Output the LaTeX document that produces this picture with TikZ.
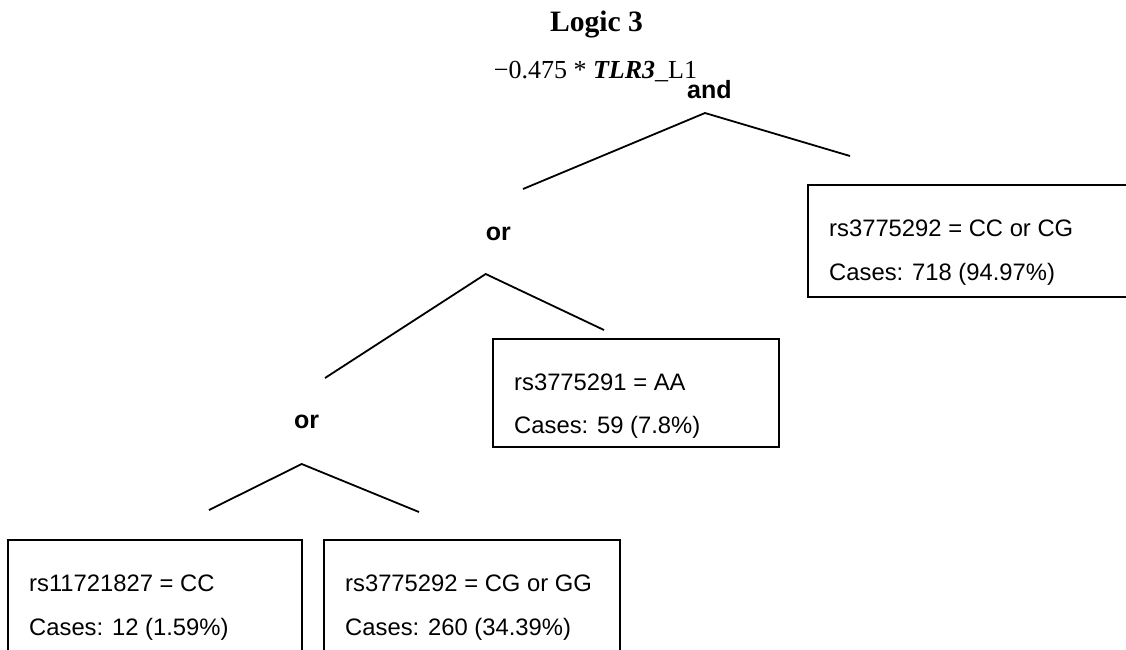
\documentclass[tikz,border=0pt]{standalone}
\usepackage{fontspec}
\setmainfont{Liberation Serif}
\newfontfamily\arialf{Liberation Sans}
\begin{document}
\begin{tikzpicture}[x=1pt,y=-1pt,
  lbox/.style={draw=black,line width=1.8pt,inner sep=0pt,outer sep=0pt,anchor=north west},
  ltext/.style={font=\arialf\fontsize{23.8}{28}\selectfont,anchor=base west,inner sep=0pt},
  opnode/.style={font=\arialf\bfseries\fontsize{25}{30}\selectfont,anchor=base west,inner sep=0pt},
  branch/.style={line width=1.8pt,line cap=butt}]
\useasboundingbox (0,0) rectangle (1126,649);
\fill[white] (0,0) rectangle (1126,649);
% title
\node[font=\bfseries\fontsize{29.6}{34}\selectfont,anchor=base,inner sep=0pt] (title) at (596.5,31.7) {Logic 3};
\node[font=\fontsize{26}{30}\selectfont,anchor=base,inner sep=0pt] (coef) at (595.5,78) {−0.475 * \textbf{\textit{TLR3}}\_L1};
% operators
\node[opnode] (and) at (687,98.3) {and};
\node[opnode] (or1) at (485.7,240) {or};
\node[opnode] (or2) at (294,428) {or};
% branch points
\coordinate (a0) at (705,113);
\coordinate (a0l) at (523,189);
\coordinate (a0r) at (850,156);
\coordinate (a1) at (485.7,274);
\coordinate (a1l) at (325,378);
\coordinate (a1r) at (604,330);
\coordinate (a2) at (301.7,464);
\coordinate (a2l) at (209,510);
\coordinate (a2r) at (419,512);
\draw[branch] (a0l) -- (a0) -- (a0r);
\draw[branch] (a1l) -- (a1) -- (a1r);
\draw[branch] (a2l) -- (a2) -- (a2r);
% boxes
\begin{scope}
\clip (0,0) rectangle (1126,649);
\node[lbox,minimum width=330pt,minimum height=112pt] (bR) at (808,185) {};
\node[lbox,minimum width=286pt,minimum height=108pt] (bA) at (493,339) {};
\node[lbox,minimum width=294pt,minimum height=112pt] (bL) at (8,540) {};
\node[lbox,minimum width=296pt,minimum height=112pt] (bM) at (324,540) {};
\end{scope}
% box texts
\node[ltext] (tR1) at (829,236.7) {rs3775292 = CC or CG};
\node[ltext] (tR2) at (829,280) {Cases: 718 (94.97\%)};
\node[ltext] (tA1) at (514,390) {rs3775291 = AA};
\node[ltext] (tA2) at (514,433.5) {Cases: 59 (7.8\%)};
\node[ltext] (tL1) at (29,591) {rs11721827 = CC};
\node[ltext] (tL2) at (29,635) {Cases: 12 (1.59\%)};
\node[ltext] (tM1) at (345,591) {rs3775292 = CG or GG};
\node[ltext] (tM2) at (345,635) {Cases: 260 (34.39\%)};
\end{tikzpicture}
\end{document}
